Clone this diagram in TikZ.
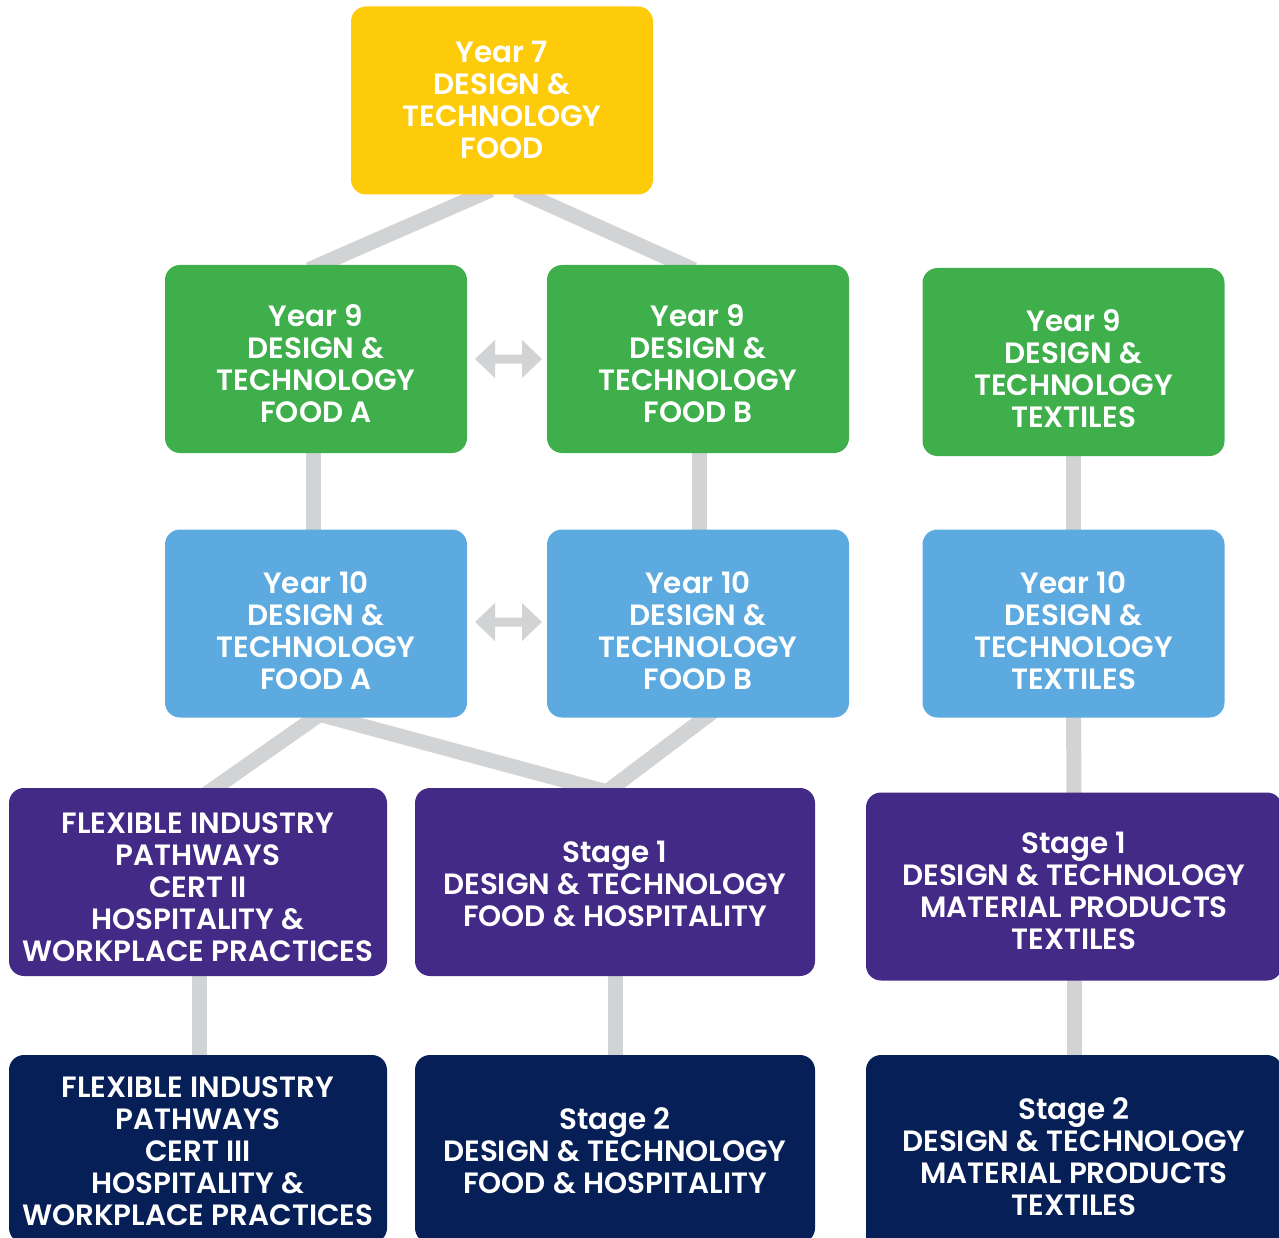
\documentclass[tikz,border=0pt]{standalone}
\usepackage{fontspec}
\setmainfont{Poppins}
\newfontfamily\cardfont{Poppins SemiBold}[WordSpace=1.05]
\usetikzlibrary{calc,backgrounds}
\definecolor{boxyellow}{HTML}{FECB0A}
\definecolor{boxgreen}{HTML}{3FAF4B}
\definecolor{boxblue}{HTML}{5CAADF}
\definecolor{boxpurple}{HTML}{432A87}
\definecolor{boxnavy}{HTML}{061F57}
\definecolor{linkgray}{HTML}{D1D3D4}
\tikzset{
  card/.style={rounded corners=15pt, inner sep=0pt, minimum height=188pt},
  cardA/.style={card, minimum width=302pt},
  cardB/.style={card, minimum width=378pt},
  cardC/.style={card, minimum width=400pt},
  cardD/.style={card, minimum width=416pt},
  caption/.style={inner sep=0pt, align=center, text=white,
    font=\cardfont\fontsize{29.4}{32}\selectfont},
  link/.style={draw=linkgray, line width=15pt, shorten <=-12pt, shorten >=-12pt},
  swap/.pic={
    \fill[linkgray] (-33.5,0) -- (-13.5,19) -- (-13.5,4.5) -- (13.5,4.5) -- (13.5,19)
      -- (33.5,0) -- (13.5,-19) -- (13.5,-4.5) -- (-13.5,-4.5) -- (-13.5,-19) -- cycle;
  }
}
\begin{document}
\begin{tikzpicture}[x=1pt, y=-1pt]
\useasboundingbox (0,0) rectangle (1279,1238);
\clip (0,0) rectangle (1279,1238);

% first year
\node[cardA, fill=boxyellow] (y7) at (502,100.5) {};

% year 9
\node[cardA, fill=boxgreen] (y9a) at (316,359) {};
\node[cardA, fill=boxgreen] (y9b) at (698,359) {};
\node[cardA, fill=boxgreen] (y9t) at (1073.5,362) {};

% year 10
\node[cardA, fill=boxblue] (y10a) at (316,623.5) {};
\node[cardA, fill=boxblue] (y10b) at (698,623.5) {};
\node[cardA, fill=boxblue] (y10t) at (1073.5,623.5) {};

% stage 1
\node[cardB, fill=boxpurple] (fip2) at (198,882) {};
\node[cardC, fill=boxpurple] (s1f) at (615,882) {};
\node[cardD, fill=boxpurple] (s1t) at (1074,886.5) {};

% stage 2
\node[cardB, fill=boxnavy] (fip3) at (198,1149) {};
\node[cardC, fill=boxnavy] (s2f) at (615,1149) {};
\node[cardD, fill=boxnavy, minimum height=200pt] (s2t) at (1074,1155) {};

% card captions
\node[caption] (y7-t)   at (502,100)   {Year 7\\DESIGN \&\\TECHNOLOGY\\FOOD};
\node[caption] (y9a-t)  at (316,364)   {Year 9\\DESIGN \&\\TECHNOLOGY\\FOOD A};
\node[caption] (y9b-t)  at (698,364)   {Year 9\\DESIGN \&\\TECHNOLOGY\\FOOD B};
\node[caption] (y9t-t)  at (1073.5,369) {Year 9\\DESIGN \&\\TECHNOLOGY\\TEXTILES};
\node[caption] (y10a-t) at (316,631)   {Year 10\\DESIGN \&\\TECHNOLOGY\\FOOD A};
\node[caption] (y10b-t) at (698,631)   {Year 10\\DESIGN \&\\TECHNOLOGY\\FOOD B};
\node[caption] (y10t-t) at (1073.5,631) {Year 10\\DESIGN \&\\TECHNOLOGY\\TEXTILES};
\node[caption] (fip2-t) at (198,887)   {FLEXIBLE INDUSTRY\\PATHWAYS\\CERT II\\HOSPITALITY \&\\WORKPLACE PRACTICES};
\node[caption] (s1f-t)  at (615,884)   {Stage 1\\DESIGN \& TECHNOLOGY\\FOOD \& HOSPITALITY};
\node[caption] (s1t-t)  at (1074,891)  {Stage 1\\DESIGN \& TECHNOLOGY\\MATERIAL PRODUCTS\\TEXTILES};
\node[caption] (fip3-t) at (198,1151)  {FLEXIBLE INDUSTRY\\PATHWAYS\\CERT III\\HOSPITALITY \&\\WORKPLACE PRACTICES};
\node[caption] (s2f-t)  at (615,1151)  {Stage 2\\DESIGN \& TECHNOLOGY\\FOOD \& HOSPITALITY};
\node[caption] (s2t-t)  at (1074,1157) {Stage 2\\DESIGN \& TECHNOLOGY\\MATERIAL PRODUCTS\\TEXTILES};

% pathways behind the cards
\begin{scope}[on background layer]
  \draw[link] ($(y7.south)+(-22,0)$) -- ($(y9a.north)+(4,0)$);
  \draw[link] ($(y7.south)+(25,0)$) -- ($(y9b.north)+(-15,0)$);
  \draw[link] ($(y9a.south)+(-3,0)$) -- ($(y10a.north)+(-3,0)$);
  \draw[link] ($(y9b.south)+(1,0)$) -- ($(y10b.north)+(1,0)$);
  \draw[link] (y9t) -- (y10t);
  \draw[link] ($(y10a.south)+(-1,0)$) -- ($(fip2.north)+(17,0)$);
  \draw[link] ($(y10a.south)+(16,0)$) -- ($(s1f.north)+(-23,0)$);
  \draw[link] ($(y10b.south)+(7,0)$) -- ($(s1f.north)+(-3,0)$);
  \draw[link] (y10t) -- (s1t);
  \draw[link] ($(fip2.south)+(1,0)$) -- ($(fip3.north)+(1,0)$);
  \draw[link] (s1f) -- (s2f);
  \draw[link] (s1t) -- (s2t);
\end{scope}

% two-way moves between food options
\pic at ($(y9a.east)!0.5!(y9b.west)+(1.5,0)$) {swap};
\pic at ($(y10a.east)!0.5!(y10b.west)+(1.5,-1.5)$) {swap};
\end{tikzpicture}
\end{document}
